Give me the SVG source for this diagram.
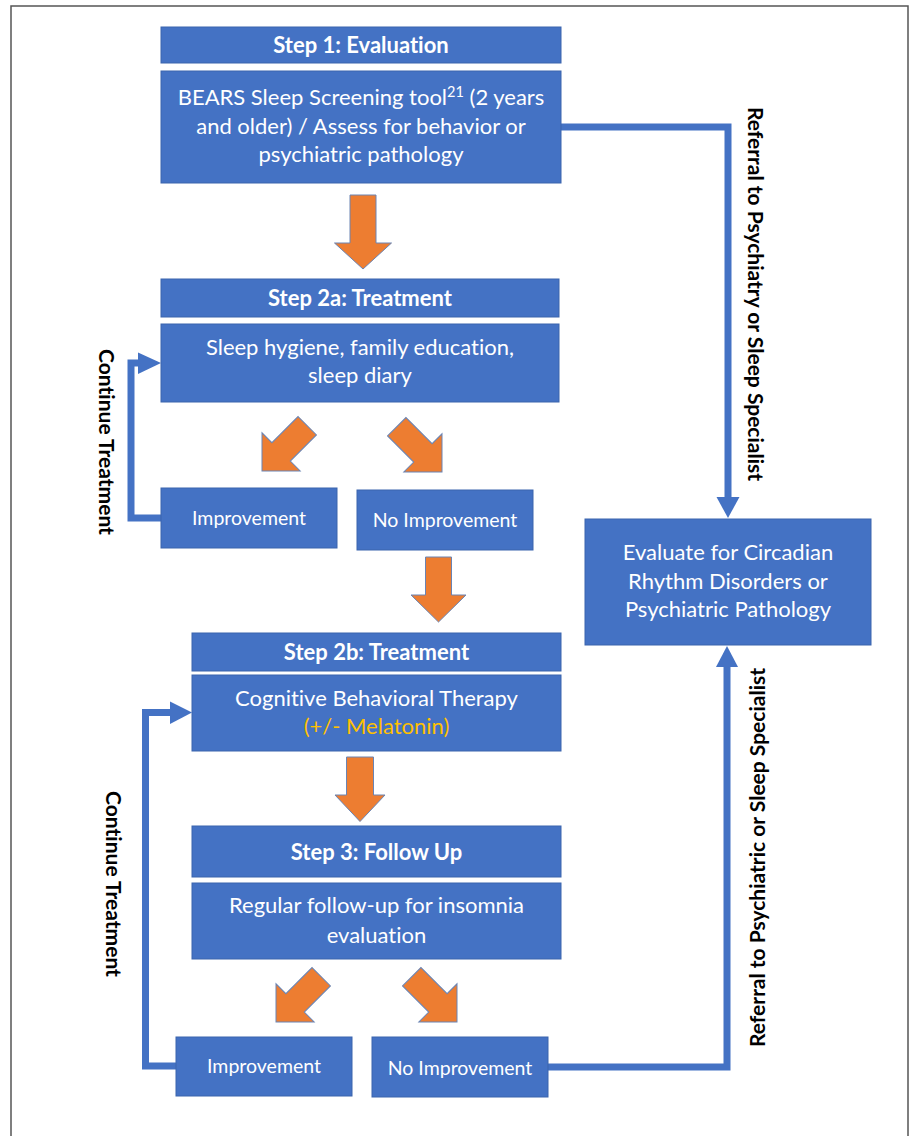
<svg xmlns="http://www.w3.org/2000/svg" width="911" height="1136" viewBox="0 0 911 1136">
<style>
.box{fill:#4472C4;stroke:#3B64AD;stroke-width:1}
.t{font-family:Lato,"Open Sans","Liberation Sans",sans-serif;fill:#FFFFFF;text-anchor:middle;font-size:22px;font-variant-ligatures:none}
.h{font-weight:bold;font-size:22px}
.s{font-size:19.5px}
.lbl{font-family:Lato,"Open Sans","Liberation Sans",sans-serif;fill:#000000;text-anchor:middle;font-weight:bold;font-size:21px;font-variant-ligatures:none}
.oa{fill:#ED7D31;stroke:#6A84B3;stroke-width:1}
.con{fill:none;stroke:#4472C4;stroke-width:7}
.ah{fill:#4472C4}
</style>
<defs>
<polygon id="diag" points="-13,-64 13,-64 13,-27 27,-27 0,0 -27,-27 -13,-27"/>
</defs>
<rect x="0" y="0" width="911" height="1136" fill="#FFFFFF"/>
<rect x="11" y="6" width="897" height="1140" fill="none" stroke="#555555" stroke-width="1.5"/>

<g id="connectors">
<path class="con" d="M561,127 H728 V499"/>
<polygon class="ah" points="716.5,497 739.5,497 728,518"/>
<path class="con" d="M548,1067 H727 V666"/>
<polygon class="ah" points="716,667 738,667 727,646"/>
<path class="con" d="M161,518 H131 V363 H140"/>
<polygon class="ah" points="138,352.5 138,374 161,363"/>
<path class="con" d="M176,1066 H145.5 V712.5 H172"/>
<polygon class="ah" points="170,701.5 170,724 192,712.5"/>
<polygon class="oa" points="350,195 376,195 376,243 391.5,243 363,269 334.5,243 350,243"/>
<use href="#diag" class="oa" transform="translate(262,471) rotate(45)"/>
<use href="#diag" class="oa" transform="translate(442,472) rotate(-45)"/>
<polygon class="oa" points="425.5,557 451.5,557 451.5,595 466,595 438.5,622 411,595 425.5,595"/>
<polygon class="oa" points="346.5,757 373.5,757 373.5,795 385,795 360,821.5 335,795 346.5,795"/>
<use href="#diag" class="oa" transform="translate(276,1022) rotate(45)"/>
<use href="#diag" class="oa" transform="translate(457,1022) rotate(-45)"/>
</g>

<g id="step1-header"><rect class="box" x="161" y="27" width="400" height="36"/><text class="t h" x="361" y="52.5">Step 1: Evaluation</text></g>
<g id="step1-body"><rect class="box" x="161" y="71" width="400" height="112"/>
<text class="t" x="361" y="105">BEARS Sleep Screening tool<tspan dy="-8" font-size="14.5">21</tspan><tspan dy="8"> (2 years</tspan></text>
<text class="t" x="361" y="133.5">and older) / Assess for behavior or</text>
<text class="t" x="361" y="162">psychiatric pathology</text></g>

<g id="step2a-header"><rect class="box" x="161" y="279" width="398" height="38"/><text class="t h" x="360" y="306">Step 2a: Treatment</text></g>
<g id="step2a-body"><rect class="box" x="161" y="324" width="398" height="78"/>
<text class="t" x="360" y="355">Sleep hygiene, family education,</text>
<text class="t" x="360" y="383">sleep diary</text></g>
<g id="improvement-2a"><rect class="box" x="161" y="488" width="176" height="60"/><text class="t s" x="249" y="525">Improvement</text></g>
<g id="no-improvement-2a"><rect class="box" x="357" y="490" width="176" height="60"/><text class="t s" x="445" y="527">No Improvement</text></g>

<g id="step2b-header"><rect class="box" x="192" y="633" width="369" height="38"/><text class="t h" x="376.5" y="659.5">Step 2b: Treatment</text></g>
<g id="step2b-body"><rect class="box" x="192" y="675" width="369" height="76"/>
<text class="t" x="376.5" y="706">Cognitive Behavioral Therapy</text>
<text class="t" x="376.5" y="734" style="fill:#FFC000">(+/- Melatonin)</text></g>

<g id="step3-header"><rect class="box" x="192" y="826" width="369" height="51"/><text class="t h" x="376.5" y="859.5">Step 3: Follow Up</text></g>
<g id="step3-body"><rect class="box" x="192" y="883" width="369" height="76"/>
<text class="t" x="376.5" y="913">Regular follow-up for insomnia</text>
<text class="t" x="376.5" y="942.5">evaluation</text></g>
<g id="improvement-3"><rect class="box" x="176" y="1037" width="176" height="59"/><text class="t s" x="264" y="1073">Improvement</text></g>
<g id="no-improvement-3"><rect class="box" x="372" y="1037" width="176" height="60"/><text class="t s" x="460" y="1075">No Improvement</text></g>

<g id="evaluate"><rect class="box" x="585" y="519" width="286" height="126"/>
<text class="t" x="728" y="560">Evaluate for Circadian</text>
<text class="t" x="728" y="588.5">Rhythm Disorders or</text>
<text class="t" x="728" y="617">Psychiatric Pathology</text></g>

<g id="labels">
<text class="lbl" transform="translate(99,442) rotate(90)">Continue Treatment</text>
<text class="lbl" transform="translate(105.5,884) rotate(90)">Continue Treatment</text>
<text class="lbl" transform="translate(748,294) rotate(90)">Referral to Psychiatry or Sleep Specialist</text>
<text class="lbl" transform="translate(764.5,857.5) rotate(-90)">Referral to Psychiatric or Sleep Specialist</text>
</g>
</svg>
